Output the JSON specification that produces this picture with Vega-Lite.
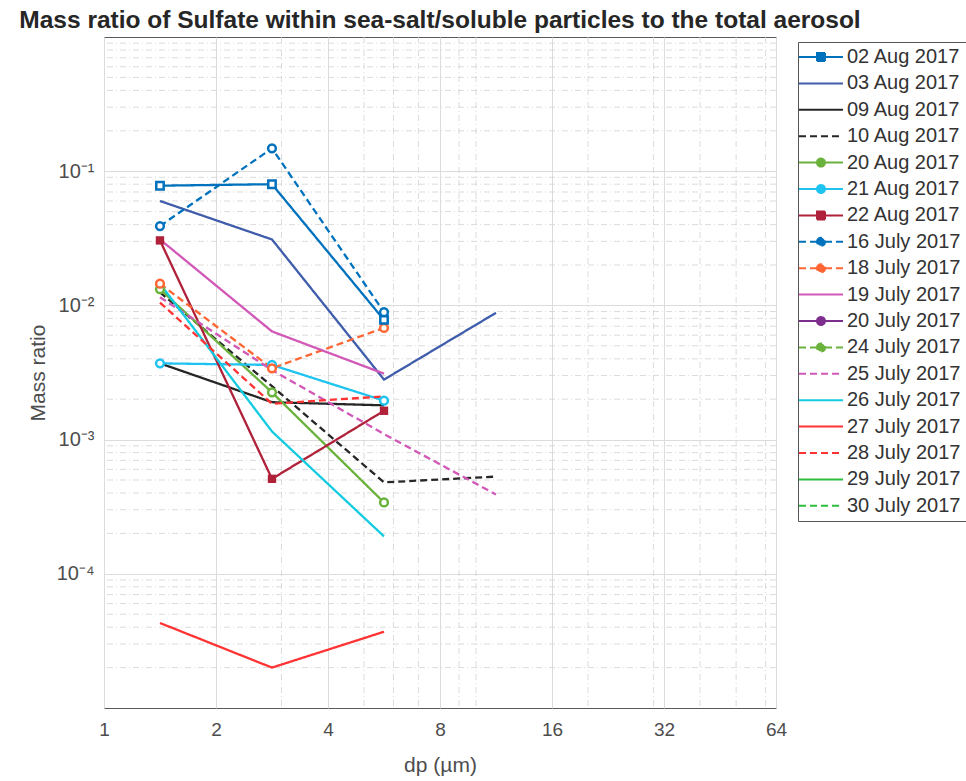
{
  "$schema": "https://vega.github.io/schema/vega-lite/v6.json",
  "autosize": {"type": "none"},
  "width": 672,
  "height": 671,
  "padding": {"left": 104, "top": 37, "right": 190, "bottom": 73},
  "background": "white",
  "title": {
    "text": "Mass ratio of Sulfate within sea-salt/soluble particles to the total aerosol",
    "font": "Liberation Sans", "fontSize": 24.5, "fontWeight": "bold", "color": "#262626",
    "anchor": "middle", "frame": "group", "offset": 3
  },
  "config": {
    "view": {"stroke": "#5a5a5a", "strokeWidth": 1},
    "axis": {
      "labelFont": "Liberation Sans", "titleFont": "Liberation Sans",
      "labelFontSize": 19, "titleFontSize": 21, "titleFontWeight": "normal",
      "labelColor": "#4d4d4d", "titleColor": "#4d4d4d",
      "ticks": false, "domain": false,
      "gridColor": "#dcdcdc", "gridWidth": 1
    }
  },
  "datasets": {
    "xgrid": [{"dp": 3}, {"dp": 5}, {"dp": 6}, {"dp": 7}, {"dp": 9}, {"dp": 10}, {"dp": 20}, {"dp": 30}, {"dp": 40}, {"dp": 50}, {"dp": 60}],
    "ygrid": [
      {"ratio": 0.00002}, {"ratio": 0.00003}, {"ratio": 0.00004}, {"ratio": 0.00005}, {"ratio": 0.00006}, {"ratio": 0.00007}, {"ratio": 0.00008}, {"ratio": 0.00009},
      {"ratio": 0.0002}, {"ratio": 0.0003}, {"ratio": 0.0004}, {"ratio": 0.0005}, {"ratio": 0.0006}, {"ratio": 0.0007}, {"ratio": 0.0008}, {"ratio": 0.0009},
      {"ratio": 0.002}, {"ratio": 0.003}, {"ratio": 0.004}, {"ratio": 0.005}, {"ratio": 0.006}, {"ratio": 0.007}, {"ratio": 0.008}, {"ratio": 0.009},
      {"ratio": 0.02}, {"ratio": 0.03}, {"ratio": 0.04}, {"ratio": 0.05}, {"ratio": 0.06}, {"ratio": 0.07}, {"ratio": 0.08}, {"ratio": 0.09},
      {"ratio": 0.2}, {"ratio": 0.3}, {"ratio": 0.4}, {"ratio": 0.5}, {"ratio": 0.6}, {"ratio": 0.7}, {"ratio": 0.8}, {"ratio": 0.9}
    ],
    "series": [
      {"date": "02 Aug 2017", "dp": 1.414, "ratio": 0.078},
      {"date": "02 Aug 2017", "dp": 2.828, "ratio": 0.080},
      {"date": "02 Aug 2017", "dp": 5.657, "ratio": 0.0078},
      {"date": "03 Aug 2017", "dp": 1.414, "ratio": 0.060},
      {"date": "03 Aug 2017", "dp": 2.828, "ratio": 0.031},
      {"date": "03 Aug 2017", "dp": 5.657, "ratio": 0.0028},
      {"date": "03 Aug 2017", "dp": 11.31, "ratio": 0.0088},
      {"date": "09 Aug 2017", "dp": 1.414, "ratio": 0.0037},
      {"date": "09 Aug 2017", "dp": 2.828, "ratio": 0.0019},
      {"date": "09 Aug 2017", "dp": 5.657, "ratio": 0.0018},
      {"date": "10 Aug 2017", "dp": 1.414, "ratio": 0.0125},
      {"date": "10 Aug 2017", "dp": 2.828, "ratio": 0.0025},
      {"date": "10 Aug 2017", "dp": 5.657, "ratio": 0.00048},
      {"date": "10 Aug 2017", "dp": 11.31, "ratio": 0.00053},
      {"date": "20 Aug 2017", "dp": 1.414, "ratio": 0.0132},
      {"date": "20 Aug 2017", "dp": 2.828, "ratio": 0.00225},
      {"date": "20 Aug 2017", "dp": 5.657, "ratio": 0.00034},
      {"date": "21 Aug 2017", "dp": 1.414, "ratio": 0.0037},
      {"date": "21 Aug 2017", "dp": 2.828, "ratio": 0.0036},
      {"date": "21 Aug 2017", "dp": 5.657, "ratio": 0.00195},
      {"date": "22 Aug 2017", "dp": 1.414, "ratio": 0.0305},
      {"date": "22 Aug 2017", "dp": 2.828, "ratio": 0.00051},
      {"date": "22 Aug 2017", "dp": 5.657, "ratio": 0.00164},
      {"date": "16 July 2017", "dp": 1.414, "ratio": 0.039},
      {"date": "16 July 2017", "dp": 2.828, "ratio": 0.148},
      {"date": "16 July 2017", "dp": 5.657, "ratio": 0.0089},
      {"date": "18 July 2017", "dp": 1.414, "ratio": 0.0145},
      {"date": "18 July 2017", "dp": 2.828, "ratio": 0.0034},
      {"date": "18 July 2017", "dp": 5.657, "ratio": 0.0068},
      {"date": "19 July 2017", "dp": 1.414, "ratio": 0.031},
      {"date": "19 July 2017", "dp": 2.828, "ratio": 0.0064},
      {"date": "19 July 2017", "dp": 5.657, "ratio": 0.0031},
      {"date": "25 July 2017", "dp": 1.414, "ratio": 0.0115},
      {"date": "25 July 2017", "dp": 2.828, "ratio": 0.0033},
      {"date": "25 July 2017", "dp": 5.657, "ratio": 0.0011},
      {"date": "25 July 2017", "dp": 11.31, "ratio": 0.00039},
      {"date": "26 July 2017", "dp": 1.414, "ratio": 0.0145},
      {"date": "26 July 2017", "dp": 2.828, "ratio": 0.00115},
      {"date": "26 July 2017", "dp": 5.657, "ratio": 0.00019},
      {"date": "27 July 2017", "dp": 1.414, "ratio": 0.000043},
      {"date": "27 July 2017", "dp": 2.828, "ratio": 0.000020},
      {"date": "27 July 2017", "dp": 5.657, "ratio": 0.000037},
      {"date": "28 July 2017", "dp": 1.414, "ratio": 0.0105},
      {"date": "28 July 2017", "dp": 2.828, "ratio": 0.00185},
      {"date": "28 July 2017", "dp": 5.657, "ratio": 0.0021}
    ]
  },
  "layer": [
    {
      "data": {"name": "xgrid"},
      "mark": {"type": "rule", "color": "#d2d2d2", "strokeWidth": 0.8, "strokeDash": [6, 3, 1, 3]},
      "encoding": {
        "x": {"field": "dp", "type": "quantitative"}
      }
    },
    {
      "data": {"name": "ygrid"},
      "mark": {"type": "rule", "color": "#d2d2d2", "strokeWidth": 0.8, "strokeDash": [6, 3, 1, 3]},
      "encoding": {
        "y": {"field": "ratio", "type": "quantitative"}
      }
    },
    {
      "data": {"name": "series"},
      "mark": {"type": "line", "strokeWidth": 2.3, "clip": true},
      "encoding": {
        "x": {
          "field": "dp", "type": "quantitative",
          "scale": {"type": "log", "base": 2, "domain": [1, 64], "nice": false, "zero": false},
          "axis": {"title": "dp (µm)", "values": [1, 2, 4, 8, 16, 32, 64], "labelPadding": 12, "titlePadding": 15, "labelFlush": false}
        },
        "y": {
          "field": "ratio", "type": "quantitative",
          "scale": {"type": "log", "domain": [0.00001, 1], "nice": false, "zero": false},
          "axis": {
            "title": "Mass ratio", "values": [0.1, 0.01, 0.001, 0.0001], "labelPadding": 10, "titlePadding": 8, "labelFontSize": 20,
            "labelExpr": "datum.value >= 0.09 ? '10⁻¹' : datum.value >= 0.009 ? '10⁻²' : datum.value >= 0.0009 ? '10⁻³' : '10⁻⁴'"
          }
        },
        "order": {"field": "dp", "type": "quantitative"},
        "color": {
          "field": "date", "type": "nominal",
          "scale": {
            "domain": ["02 Aug 2017", "03 Aug 2017", "09 Aug 2017", "10 Aug 2017", "20 Aug 2017", "21 Aug 2017", "22 Aug 2017", "16 July 2017", "18 July 2017", "19 July 2017", "20 July 2017", "24 July 2017", "25 July 2017", "26 July 2017", "27 July 2017", "28 July 2017", "29 July 2017", "30 July 2017"],
            "range": ["#0072BD", "#3F5DAB", "#262626", "#262626", "#6AB23C", "#1FC3F0", "#B0213A", "#0072BD", "#FF6633", "#D258B8", "#7E2F8E", "#6AB23C", "#D258B8", "#12CBE0", "#FF3333", "#FF3333", "#2EBE3C", "#2EBE3C"]
          },
          "legend": {
            "orient": "none", "legendX": 694, "legendY": 5, "title": null,
            "strokeColor": "#555555", "fillColor": "white", "padding": 5,
            "labelFont": "Liberation Sans", "labelFontSize": 20, "labelColor": "#333333", "labelLimit": 300,
            "symbolSize": 100, "symbolStrokeWidth": 2, "rowPadding": 6.4, "labelOffset": 24,
            "encode": {
              "symbols": {
                "update": {
                  "shape": {"signal": "(datum.value === '02 Aug 2017' || datum.value === '22 Aug 2017') ? 'M-2.8,0H0.8M2.4,0H6M0.8,-0.8H2.4V0.8H0.8Z' : (indexof(['20 Aug 2017','21 Aug 2017','16 July 2017','18 July 2017','20 July 2017','24 July 2017'], datum.value) >= 0 ? 'M-2.8,0H0.8M2.4,0H6M0.8,0A0.8,0.8 0 1,1 2.4,0A0.8,0.8 0 1,1 0.8,0Z' : 'M-2.8,0H6')"},
                  "fill": {"signal": "datum.value === '22 Aug 2017' ? '#B0213A' : 'white'"}
                }
              }
            }
          }
        },
        "strokeDash": {
          "field": "date", "type": "nominal",
          "scale": {
            "domain": ["02 Aug 2017", "03 Aug 2017", "09 Aug 2017", "10 Aug 2017", "20 Aug 2017", "21 Aug 2017", "22 Aug 2017", "16 July 2017", "18 July 2017", "19 July 2017", "20 July 2017", "24 July 2017", "25 July 2017", "26 July 2017", "27 July 2017", "28 July 2017", "29 July 2017", "30 July 2017"],
            "range": [[1, 0], [1, 0], [1, 0], [7, 4], [1, 0], [1, 0], [1, 0], [7, 4], [7, 4], [1, 0], [1, 0], [7, 4], [7, 4], [1, 0], [1, 0], [7, 4], [1, 0], [7, 4]]
          }
        }
      }
    },
    {
      "data": {"name": "series"},
      "transform": [{"filter": {"field": "date", "oneOf": ["20 Aug 2017", "21 Aug 2017", "16 July 2017", "18 July 2017"]}}],
      "mark": {"type": "point", "shape": "circle", "filled": false, "fill": "white", "fillOpacity": 1, "size": 60, "strokeWidth": 2.5, "opacity": 1},
      "encoding": {
        "x": {"field": "dp", "type": "quantitative"},
        "y": {"field": "ratio", "type": "quantitative"},
        "color": {"field": "date", "type": "nominal"}
      }
    },
    {
      "data": {"name": "series"},
      "transform": [{"filter": {"field": "date", "oneOf": ["02 Aug 2017"]}}],
      "mark": {"type": "point", "shape": "square", "filled": false, "fill": "white", "fillOpacity": 1, "size": 55, "strokeWidth": 2.5, "opacity": 1},
      "encoding": {
        "x": {"field": "dp", "type": "quantitative"},
        "y": {"field": "ratio", "type": "quantitative"},
        "color": {"field": "date", "type": "nominal"}
      }
    },
    {
      "data": {"name": "series"},
      "transform": [{"filter": {"field": "date", "oneOf": ["22 Aug 2017"]}}],
      "mark": {"type": "point", "shape": "square", "filled": true, "size": 70, "strokeWidth": 1.5, "opacity": 1},
      "encoding": {
        "x": {"field": "dp", "type": "quantitative"},
        "y": {"field": "ratio", "type": "quantitative"},
        "color": {"field": "date", "type": "nominal"}
      }
    }
  ]
}
